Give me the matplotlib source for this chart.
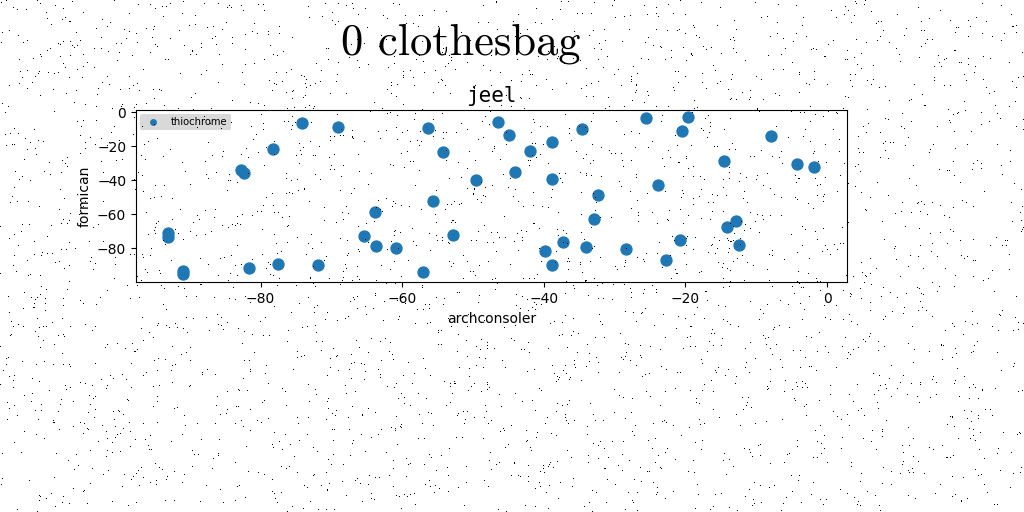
import numpy as np
import matplotlib
matplotlib.use("Agg")
import matplotlib.pyplot as plt

# values
x_vals = [-93.1, -93.1, -91.0, -91.0, -81.7, -82.8, -82.4, -78.2, -77.6, -74.1,
          -71.9, -69.0, -65.4, -63.8, -63.7, -60.9, -57.0, -56.4, -55.6, -54.3,
          -52.8, -49.6, -46.4, -44.9, -41.9, -44.1, -38.9, -38.9, -39.9, -38.9,
          -37.3, -34.6, -32.4, -32.9, -34.1, -28.4, -25.6, -23.9, -22.8, -20.7,
          -20.5, -19.6, -14.5, -14.1, -12.8, -12.5, -7.9, -4.2, -1.8]
y_vals = [-71.2, -73.2, -93.1, -95.0, -91.7, -34.0, -36.0, -21.9, -89.2, -6.6,
          -89.8, -9.0, -72.8, -58.9, -78.6, -80.0, -93.9, -9.6, -52.4, -23.5,
          -72.2, -40.1, -6.0, -13.7, -22.9, -35.2, -17.8, -39.5, -81.7, -89.8,
          -76.5, -10.2, -48.9, -62.8, -79.3, -80.6, -3.5, -42.8, -87.0, -75.1,
          -11.3, -2.9, -28.9, -67.5, -64.0, -78.2, -14.1, -30.7, -32.5]
series_name = "thiochrome"

fig = plt.figure(figsize=(10.24, 5.12), dpi=100)
ax = fig.add_axes([0.1328, 0.4486, 0.6942, 0.3366])

ax.scatter(x_vals, y_vals, s=62, color="#1f77b4", label=series_name, zorder=3)
ax.set_xlim(-97.6, 2.8)
ax.set_ylim(-100.0, 1.2)
ax.set_xticks([-80, -60, -40, -20, 0])
ax.set_yticks([0, -20, -40, -60, -80])
ax.set_xlabel("archconsoler", fontsize=10)
ax.set_ylabel("formican", fontsize=10)
ax.set_title("jeel", fontsize=15, family="DejaVu Sans Mono")

leg = ax.legend(loc="upper left", fontsize=7.2, markerscale=0.5, frameon=True,
                facecolor="#d9d9d9", edgecolor="none", framealpha=1.0,
                borderpad=0.3, borderaxespad=0.4)

fig.text(0.4497, 0.8926, "0 clothesbag", ha="center", va="baseline",
         fontsize=32, family="cmr10")

# speckle texture over the whole picture
rng = np.random.default_rng(7)
h, w = 512, 1024
speck = np.zeros((h, w, 4))
mask = rng.random((h, w)) < 0.006
speck[mask] = [0, 0, 0, 1]
fig.figimage(speck, xo=0, yo=0, zorder=10)

fig.savefig("out.png", dpi=100)
